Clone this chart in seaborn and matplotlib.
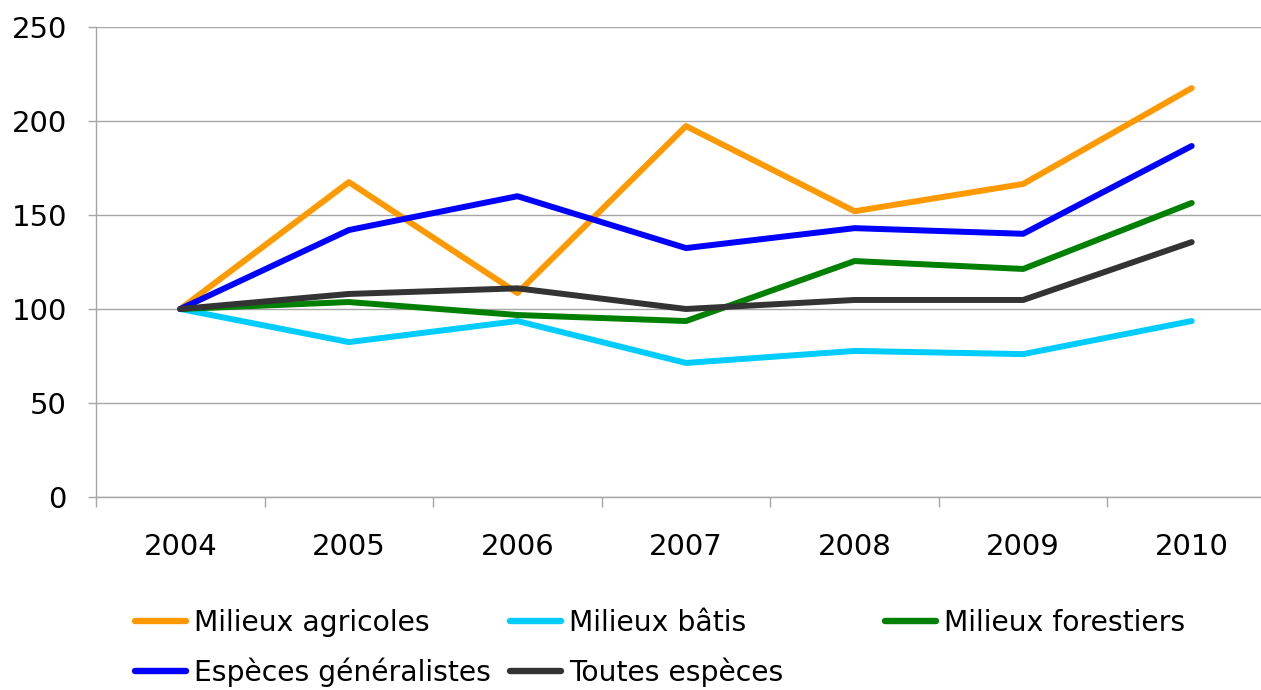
import matplotlib
matplotlib.use("Agg")
import matplotlib.pyplot as plt
from matplotlib.ticker import FixedLocator
from matplotlib.lines import Line2D
import seaborn as sns
import pandas as pd

years = [2004, 2005, 2006, 2007, 2008, 2009, 2010]
agricoles = [100, 167.5, 108.5, 197.3, 152, 166.5, 217.5]
batis = [100, 82.4, 93.6, 71.3, 77.7, 76, 93.6]
forestiers = [100, 103.7, 96.8, 93.6, 125.5, 121.3, 156.4]
generalistes = [100, 142, 160, 132.4, 143, 140, 186.7]
toutes = [100, 108, 111, 100, 104.8, 104.8, 135.6]

series_names = ["Milieux agricoles", "Milieux bâtis", "Milieux forestiers",
                "Espèces généralistes", "Toutes espèces"]
series_values = [agricoles, batis, forestiers, generalistes, toutes]
colors = ["#FF9900", "#00CCFF", "#008000", "#0000FF", "#333333"]
y_ticks = [0, 50, 100, 150, 200, 250]

rows = []
for name, vals in zip(series_names, series_values):
    for y, v in zip(years, vals):
        rows.append({"year": y, "value": v, "series": name})
df = pd.DataFrame(rows)

sns.set_theme(style="white")
plt.rcParams["font.family"] = ["DejaVu Sans"]
plt.rcParams["text.color"] = "black"

fig = plt.figure(figsize=(12.61, 6.90), dpi=100)
ax = fig.add_axes([96 / 1261, 193 / 690, (1276 - 96) / 1261, 470 / 690])

sns.lineplot(data=df, x="year", y="value", hue="series", hue_order=series_names,
             palette=dict(zip(series_names, colors)), linewidth=4.3, ax=ax,
             legend=False, solid_capstyle="round", solid_joinstyle="round", sort=False)

ax.set_xlim(2003.5, 2010.5)
ax.set_ylim(0, 250)
ax.set_xlabel("")
ax.set_ylabel("")

grid_c = "#A6A6A6"
ax.set_yticks(y_ticks)
ax.yaxis.grid(True, color=grid_c, linewidth=1)
ax.set_axisbelow(True)
for s in ["top", "right"]:
    ax.spines[s].set_visible(False)
for s in ["left", "bottom"]:
    ax.spines[s].set_color(grid_c)
    ax.spines[s].set_linewidth(1)

ax.set_xticks(years)
ax.set_xticklabels([str(y) for y in years])
ax.xaxis.set_minor_locator(FixedLocator([y + 0.5 for y in [2003] + years]))
ax.tick_params(axis="x", which="major", length=0, pad=26, labelsize=21, labelcolor="black")
ax.tick_params(axis="x", which="minor", length=7, width=1, color=grid_c, bottom=True)
ax.tick_params(axis="y", which="major", length=6, width=1, color=grid_c, pad=15,
               labelsize=21, labelcolor="black", left=True)

handles = {}
for name, c in zip(series_names, colors):
    handles[name] = Line2D([], [], color=c, linewidth=4.6, solid_capstyle="round")

groups = [(["Milieux agricoles", "Espèces généralistes"], 135),
          (["Milieux bâtis", "Toutes espèces"], 510),
          (["Milieux forestiers"], 885)]
for names, xpx in groups:
    leg = fig.legend([handles[n] for n in names], names, loc="upper left",
                     bbox_to_anchor=(xpx / 1261, 1 - 609 / 690), frameon=False,
                     fontsize=20.3, handlelength=1.8, handletextpad=0.3,
                     borderpad=0, borderaxespad=0, labelspacing=0.72)
    for t in leg.get_texts():
        t.set_color("black")

fig.savefig("out.png", dpi=100)
